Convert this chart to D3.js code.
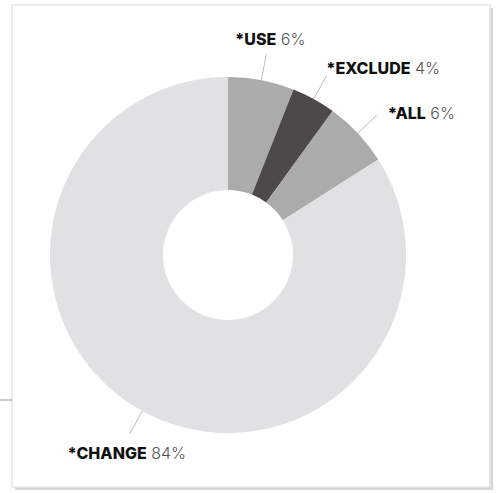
<!DOCTYPE html>
<html>
<head>
<meta charset="utf-8">
<script src="https://cdn.jsdelivr.net/npm/d3@7"></script>
<style>
  body { margin: 0; background: #fff; }
  svg text { font-family: Inter, "Open Sans", sans-serif; font-size: 16px; }
</style>
</head>
<body>
<div class="container"></div>
<script>
const width = 496;
const height = 493;

// data
const labels = ["*USE", "*EXCLUDE", "*ALL", "*CHANGE"];
const values = [6, 4, 6, 84];
const colors = ["#ababab", "#4d4849", "#ababab", "#e0e1e2"];

const cx = 228, cy = 255;
const outerR = 178, innerR = 65;

const svg = d3.select(".container")
    .append("svg")
    .attr("width", width)
    .attr("height", height);

// card shadow + frame
svg.append("rect")
    .attr("x", 15).attr("y", 8)
    .attr("width", 478).attr("height", 482)
    .attr("fill", "#d6d6d6");
svg.append("rect")
    .attr("x", 12).attr("y", 5)
    .attr("width", 478).attr("height", 482)
    .attr("fill", "#fff")
    .attr("stroke", "#e6e6e6")
    .attr("stroke-width", 1.5);

// little rule sticking out on the left
svg.append("line")
    .attr("x1", 0).attr("x2", 12)
    .attr("y1", 400).attr("y2", 400)
    .attr("stroke", "#999").attr("stroke-width", 1);

const g = svg.append("g")
    .attr("transform", `translate(${cx},${cy})`);

const pie = d3.pie().sort(null).value(d => d)(values);
const arc = d3.arc().innerRadius(innerR).outerRadius(outerR);

g.selectAll("path")
    .data(pie)
    .enter()
    .append("path")
    .attr("d", arc)
    .attr("fill", (d, i) => colors[i]);

// leader lines
const lineStart = d3.arc().innerRadius(outerR).outerRadius(outerR);
const lineEnd = d3.arc().innerRadius(204).outerRadius(204);

g.selectAll("line.leader")
    .data(pie)
    .enter()
    .append("line")
    .attr("class", "leader")
    .attr("x1", d => lineStart.centroid(d)[0])
    .attr("y1", d => lineStart.centroid(d)[1])
    .attr("x2", d => lineEnd.centroid(d)[0])
    .attr("y2", d => lineEnd.centroid(d)[1])
    .attr("stroke", "#aaa")
    .attr("stroke-width", 0.8);

// label offsets from the line end
const offsets = [
    { dx: 4, dy: -10, anchor: "middle" },
    { dx: 0, dy: -2, anchor: "start" },
    { dx: 11, dy: 4, anchor: "start" },
    { dx: -3, dy: 25, anchor: "middle" }
];

const txt = g.selectAll("text.lbl")
    .data(pie)
    .enter()
    .append("text")
    .attr("class", "lbl")
    .attr("x", (d, i) => lineEnd.centroid(d)[0] + offsets[i].dx)
    .attr("y", (d, i) => lineEnd.centroid(d)[1] + offsets[i].dy)
    .attr("text-anchor", (d, i) => offsets[i].anchor);

txt.append("tspan")
    .attr("font-weight", 800)
    .attr("fill", "#111")
    .text((d, i) => labels[i]);

txt.append("tspan")
    .attr("font-weight", 300)
    .attr("fill", "#555")
    .text(d => " " + d.data + "%");
</script>
</body>
</html>
